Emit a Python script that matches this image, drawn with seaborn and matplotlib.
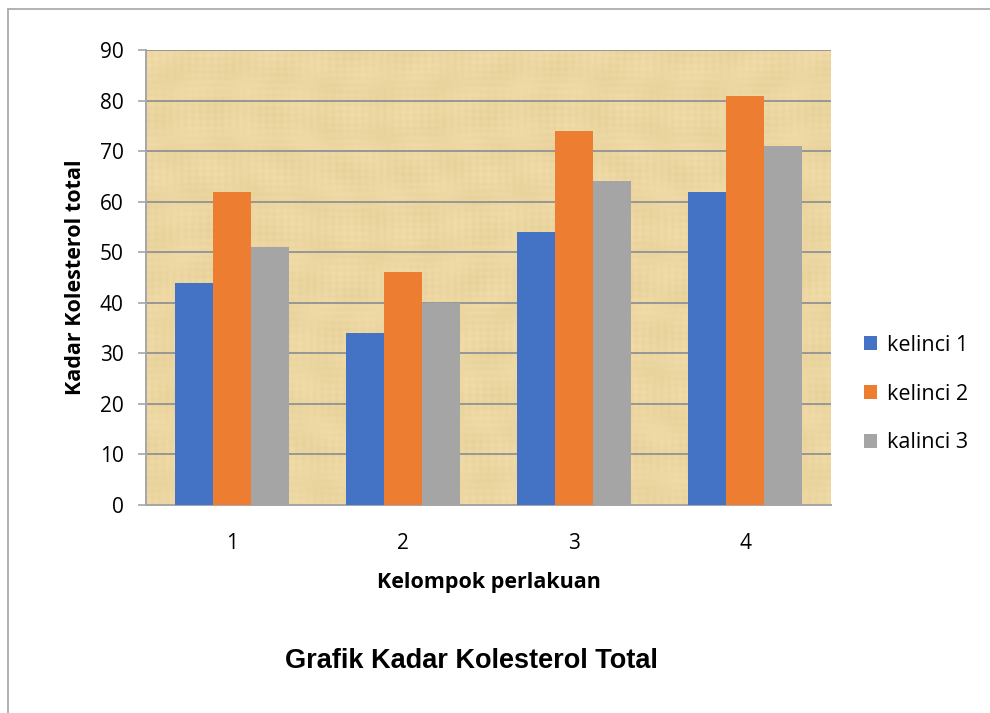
import numpy as np
import pandas as pd
import matplotlib
matplotlib.use("Agg")
import matplotlib.pyplot as plt
from matplotlib.lines import Line2D
import seaborn as sns

# Data
groups = ["1", "2", "3", "4"]
series = ["kelinci 1", "kelinci 2", "kalinci 3"]
kelinci_1 = [44, 34, 54, 62]
kelinci_2 = [62, 46, 74, 81]
kalinci_3 = [51, 40, 64, 71]
colors = ["#4472C4", "#ED7D31", "#A5A5A5"]

df = pd.DataFrame({
    "kelompok": groups * 3,
    "seri": [series[0]] * 4 + [series[1]] * 4 + [series[2]] * 4,
    "nilai": kelinci_1 + kelinci_2 + kalinci_3,
})

sns.set_theme(style="white")
plt.rcParams["font.family"] = ["Open Sans", "DejaVu Sans"]
plt.rcParams["text.color"] = "black"

fig = plt.figure(figsize=(9.9, 7.13), dpi=100)
ax = fig.add_axes([146 / 990, 1 - 505 / 713, 685 / 990, 455 / 713])

# Papyrus-like background texture (deterministic fibres)
h, w = 228, 343
yy, xx = np.mgrid[0:h, 0:w].astype(float)
fib = (0.30 * np.sin(xx * 1.7) * np.sin(yy * 0.11 + 1.3)
       + 0.30 * np.sin(yy * 1.9 + 0.4) * np.sin(xx * 0.09 + 2.0)
       + 0.20 * np.sin(xx * 0.23 + np.sin(yy * 0.05) * 3)
       + 0.20 * np.sin(yy * 0.31 + np.sin(xx * 0.04) * 2))
base = np.array([236, 215, 162]) / 255.0
tex = base[None, None, :] + fib[..., None] * np.array([0.03, 0.03, 0.04])[None, None, :]
tex = np.clip(tex, 0, 1)
ax.imshow(tex, extent=[0, 1, 0, 1], transform=ax.transAxes, aspect="auto",
          zorder=0, interpolation="bilinear")

sns.barplot(data=df, x="kelompok", y="nilai", hue="seri", order=groups,
            hue_order=series, palette=colors, saturation=1, width=0.667,
            gap=0, ax=ax, zorder=3, edgecolor="none", linewidth=0)

ax.set_xlim(-0.5, 3.5)
ax.set_ylim(0, 90)
ax.set_yticks(range(0, 91, 10))
ax.yaxis.grid(True, color="#979797", linewidth=1.4, zorder=1)
ax.xaxis.grid(False)
ax.set_axisbelow(True)

for s in ["top", "right"]:
    ax.spines[s].set_visible(False)
for s in ["left", "bottom"]:
    ax.spines[s].set_color("#A6A6A6")
    ax.spines[s].set_linewidth(1.4)

ax.tick_params(axis="y", which="major", left=True, length=6, width=1.2,
               color="#A6A6A6", labelsize=15, pad=10, labelcolor="black")
ax.tick_params(axis="x", which="major", bottom=False, labelsize=15, pad=14,
               labelcolor="black")

ax.set_xlabel("Kelompok perlakuan", fontsize=15.5, fontweight="bold",
              color="black", labelpad=13)
ax.set_ylabel("Kadar Kolesterol total", fontsize=15.5, fontweight="bold",
              color="black", labelpad=10)

leg = ax.legend(loc="center left", bbox_to_anchor=(853 / 990, 1 - 394 / 713),
                bbox_transform=fig.transFigure, frameon=False, fontsize=15.5,
                handlelength=0.62, handleheight=0.62, handletextpad=0.45,
                labelspacing=1.3, borderpad=0)
for t in leg.get_texts():
    t.set_color("black")

fig.text(471 / 990, 1 - 661 / 713, "Grafik Kadar Kolesterol Total",
         ha="center", va="center", fontsize=19.5, fontweight="bold",
         color="black", family=["Liberation Sans", "DejaVu Sans"])

# Outer chart frame
fig.add_artist(Line2D([8 / 990, 8 / 990], [0, 1 - 9 / 713],
                      transform=fig.transFigure, color="#A6A6A6", linewidth=1.2))
fig.add_artist(Line2D([8 / 990, 1], [1 - 9 / 713, 1 - 9 / 713],
                      transform=fig.transFigure, color="#A6A6A6", linewidth=1.2))

fig.savefig("out.png", dpi=100)
